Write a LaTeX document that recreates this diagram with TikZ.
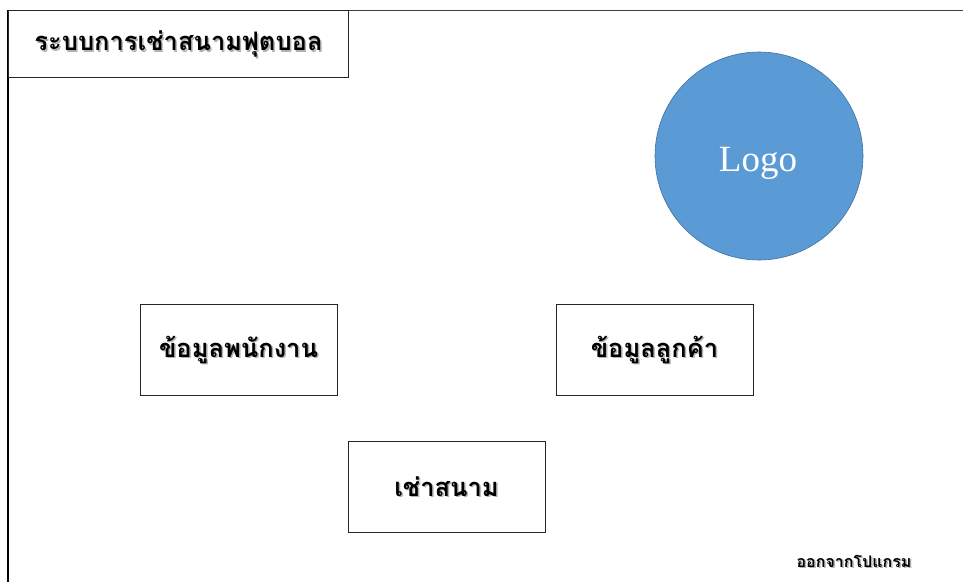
\documentclass[tikz,border=0pt]{standalone}
\usepackage{fontspec}
\usetikzlibrary{calc}
\newfontfamily\thaifont[Script=Thai]{Loma}
\newfontfamily\logofont{Liberation Serif}
\begin{document}
\begin{tikzpicture}[x=1pt,y=-1pt,
  framebox/.style={draw=black!85,line width=1pt,fill=white,minimum width=197pt,minimum height=91pt,inner sep=0pt},
  thailabel/.style={font=\thaifont\bfseries\fontsize{25.5}{28}\selectfont},
  shade/.style={text=black!30},
  logodisc/.style={circle,fill={rgb,255:red,91;green,155;blue,213},draw={rgb,255:red,65;green,113;blue,156},line width=0.6pt,minimum size=208pt,inner sep=0pt},
  logotext/.style={text=white,font=\logofont\fontsize{37}{40}\selectfont}
]
\useasboundingbox (0,0) rectangle (963,582);
\fill[white] (0,0) rectangle (963,582);
% page frame
\draw[black!75,line width=1pt] (8,10) -- (963,10);
\draw[black,line width=1.2pt] (8,10) -- (8,582);
% title
\node[draw=black!85,line width=1pt,fill=white,minimum width=340pt,minimum height=67pt,inner sep=0pt,anchor=north west] (title) at (8,10) {};
\node[thailabel,shade] at ($(title.center)+(1.5,1.5)$) {ระบบการเช่าสนามฟุตบอล};
\node[thailabel] (titletext) at (title.center) {ระบบการเช่าสนามฟุตบอล};
% logo
\node[logodisc] (logo) at (759,156) {};
\node[logotext] (logolabel) at ($(logo.center)+(-1,7)$) {Logo};
% menu boxes
\node[framebox] (staff) at (238.5,349.5) {};
\node[thailabel,shade] at ($(staff.center)+(1.5,1.5)$) {ข้อมูลพนักงาน};
\node[thailabel] at (staff.center) {ข้อมูลพนักงาน};
\node[framebox] (customer) at (654.5,349.5) {};
\node[thailabel,shade] at ($(customer.center)+(1.5,1.5)$) {ข้อมูลลูกค้า};
\node[thailabel] at (customer.center) {ข้อมูลลูกค้า};
\node[framebox] (rent) at (446.5,486.5) {};
\node[thailabel,shade] at ($(rent.center)+(1.5,1.5)$) {เช่าสนาม};
\node[thailabel] at (rent.center) {เช่าสนาม};
% exit
\node[font=\thaifont\bfseries\fontsize{16}{18}\selectfont,shade] at (855.5,562.5) {ออกจากโปแกรม};
\node[font=\thaifont\bfseries\fontsize{16}{18}\selectfont] (exit) at (854,561) {ออกจากโปแกรม};
\end{tikzpicture}
\end{document}
